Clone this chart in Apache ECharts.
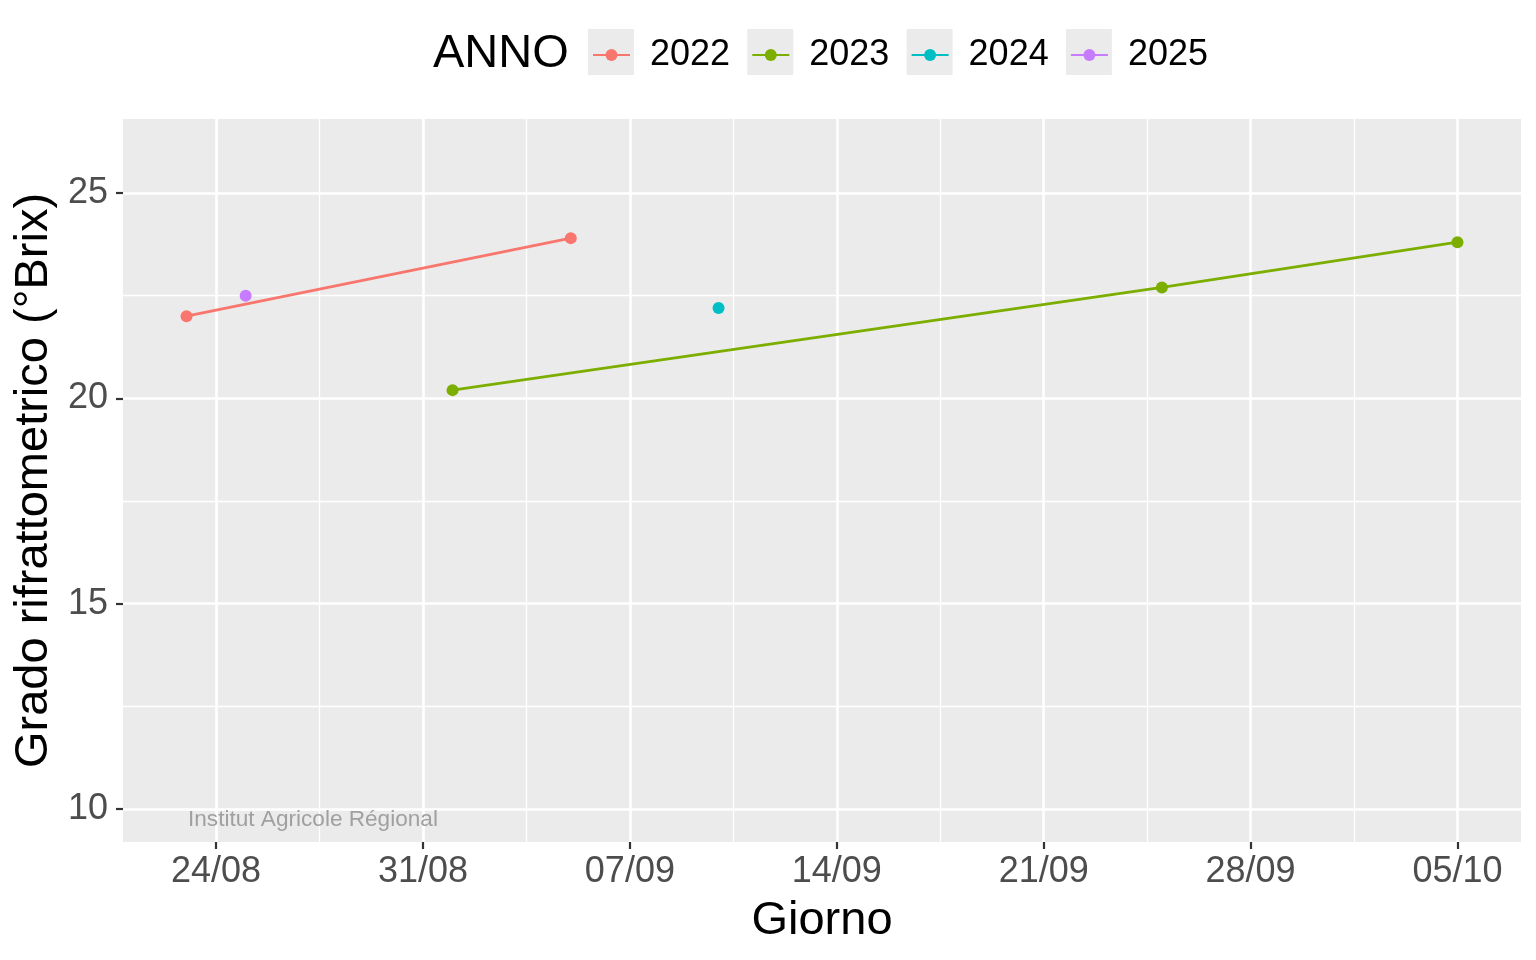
<!DOCTYPE html>
<html>
<head>
<meta charset="utf-8">
<script src="https://cdn.jsdelivr.net/npm/echarts@6/dist/echarts.min.js"></script>
<style>
html,body{margin:0;padding:0;background:#ffffff;}
#chart{width:1536px;height:960px;}
</style>
</head>
<body>
<div id="chart"></div>
<script>
// ---- data ----
const years = ['2022', '2023', '2024', '2025'];
const yearColors = ['#F8766D', '#7CAE00', '#00BFC4', '#C77CFF'];
const days2022 = ['23/08', '05/09'];
const brix2022 = [22.0, 23.9];
const days2023 = ['01/09', '25/09', '05/10'];
const brix2023 = [20.2, 22.7, 23.8];
const days2024 = ['10/09'];
const brix2024 = [22.2];
const days2025 = ['25/08'];
const brix2025 = [22.5];
const xTickLabels = ['24/08', '31/08', '07/09', '14/09', '21/09', '28/09', '05/10'];
const yTickValues = [10, 15, 20, 25];
const yLimits = [10, 26];
const xTitle = 'Giorno';
const yTitle = 'Grado rifrattometrico (°Brix)';
const legendTitle = 'ANNO';
const watermark = 'Institut Agricole Régional';

// ---- helpers ----
function toTs(s) {
  const p = s.split('/');
  return Date.UTC(2000, parseInt(p[1], 10) - 1, parseInt(p[0], 10));
}
function fmt(v) {
  const d = new Date(v);
  const dd = String(d.getUTCDate()).padStart(2, '0');
  const mm = String(d.getUTCMonth() + 1).padStart(2, '0');
  return dd + '/' + mm;
}
const allDays = [days2022, days2023, days2024, days2025];
const allBrix = [brix2022, brix2023, brix2024, brix2025];
let tsAll = [];
allDays.forEach(a => a.forEach(s => tsAll.push(toTs(s))));
const dMin = Math.min.apply(null, tsAll), dMax = Math.max.apply(null, tsAll);
const xExp = (dMax - dMin) * 0.05;
const xMin = dMin - xExp, xMax = dMax + xExp;
const yExp = (yLimits[1] - yLimits[0]) * 0.05;
const yMin = yLimits[0] - yExp, yMax = yLimits[1] + yExp;

const xMajor = xTickLabels.map(toTs);
const xMinor = [];
for (let i = 0; i < xMajor.length - 1; i++) xMinor.push((xMajor[i] + xMajor[i + 1]) / 2);
const yMinor = [];
for (let i = 0; i < yTickValues.length - 1; i++) yMinor.push((yTickValues[i] + yTickValues[i + 1]) / 2);

const series = years.map((y, i) => ({
  name: y,
  type: 'line',
  xAxisIndex: 0,
  yAxisIndex: 0,
  data: allDays[i].map((d, j) => [toTs(d), allBrix[i][j]]),
  symbol: 'circle',
  symbolSize: 12,
  showSymbol: true,
  itemStyle: { color: yearColors[i] },
  lineStyle: { color: yearColors[i], width: 2.8 },
  emphasis: { disabled: true },
  animation: false,
  z: 5
}));

const boxX0 = 588, boxStep = 159.3;
const legends = years.map((y, i) => ({
  data: [y],
  left: boxX0 + i * boxStep + 4,
  top: 37,
  padding: 0,
  itemWidth: 37,
  itemHeight: 15,
  textStyle: { fontSize: 36, color: '#000', fontFamily: 'Liberation Sans', padding: [0, 0, 0, 15] },
  selectedMode: false
}));

const graphics = years.map((y, i) => ({
  type: 'rect',
  left: boxX0 + i * boxStep,
  top: 29,
  shape: { width: 46, height: 46 },
  style: { fill: '#EBEBEB' },
  z: -1
}));
graphics.push({
  type: 'text',
  left: 188,
  top: 808,
  z: 10,
  style: { text: watermark, fill: '#A0A0A0', fontSize: 22.6, fontFamily: 'Liberation Sans' }
});

const chart = echarts.init(document.getElementById('chart'));
chart.setOption({
  backgroundColor: '#ffffff',
  animation: false,
  textStyle: { fontFamily: 'Liberation Sans' },
  title: {
    text: legendTitle,
    left: 433,
    top: 31,
    padding: 0,
    textStyle: { fontSize: 47, fontWeight: 'normal', color: '#000', fontFamily: 'Liberation Sans' }
  },
  legend: legends,
  graphic: graphics,
  grid: {
    left: 123, right: 15, top: 119, bottom: 118,
    show: true, backgroundColor: '#EBEBEB', borderWidth: 0,
    containLabel: false, outerBoundsMode: 'none'
  },
  xAxis: [{
    type: 'value', min: xMin, max: xMax, position: 'bottom',
    axisLine: { show: false },
    axisTick: { show: true, customValues: xMajor, length: 7, lineStyle: { color: '#333333', width: 2.2 } },
    axisLabel: { customValues: xMajor, formatter: fmt, fontSize: 36, color: '#4D4D4D', margin: 12, fontFamily: 'Liberation Sans' },
    splitLine: { show: true, lineStyle: { color: '#ffffff', width: 2.6 } },
    name: xTitle, nameLocation: 'middle', nameGap: 56,
    nameTextStyle: { fontSize: 47, color: '#000', fontFamily: 'Liberation Sans' }
  }, {
    type: 'value', min: xMin, max: xMax, position: 'top',
    axisLine: { show: false },
    axisTick: { show: false, customValues: xMinor },
    axisLabel: { show: false },
    splitLine: { show: true, lineStyle: { color: '#ffffff', width: 1.3 } }
  }],
  yAxis: [{
    type: 'value', min: yMin, max: yMax, position: 'left',
    axisLine: { show: false },
    axisTick: { show: true, customValues: yTickValues, length: 7, lineStyle: { color: '#333333', width: 2.2 } },
    axisLabel: { customValues: yTickValues, fontSize: 36, color: '#4D4D4D', margin: 15, fontFamily: 'Liberation Sans' },
    splitLine: { show: true, lineStyle: { color: '#ffffff', width: 2.6 } },
    name: yTitle, nameLocation: 'middle', nameGap: 65, nameRotate: 90,
    nameTextStyle: { fontSize: 47, color: '#000', fontFamily: 'Liberation Sans' }
  }, {
    type: 'value', min: yMin, max: yMax, position: 'right',
    axisLine: { show: false },
    axisTick: { show: false, customValues: yMinor },
    axisLabel: { show: false },
    splitLine: { show: true, lineStyle: { color: '#ffffff', width: 1.3 } }
  }],
  series: series
});
</script>
</body>
</html>
